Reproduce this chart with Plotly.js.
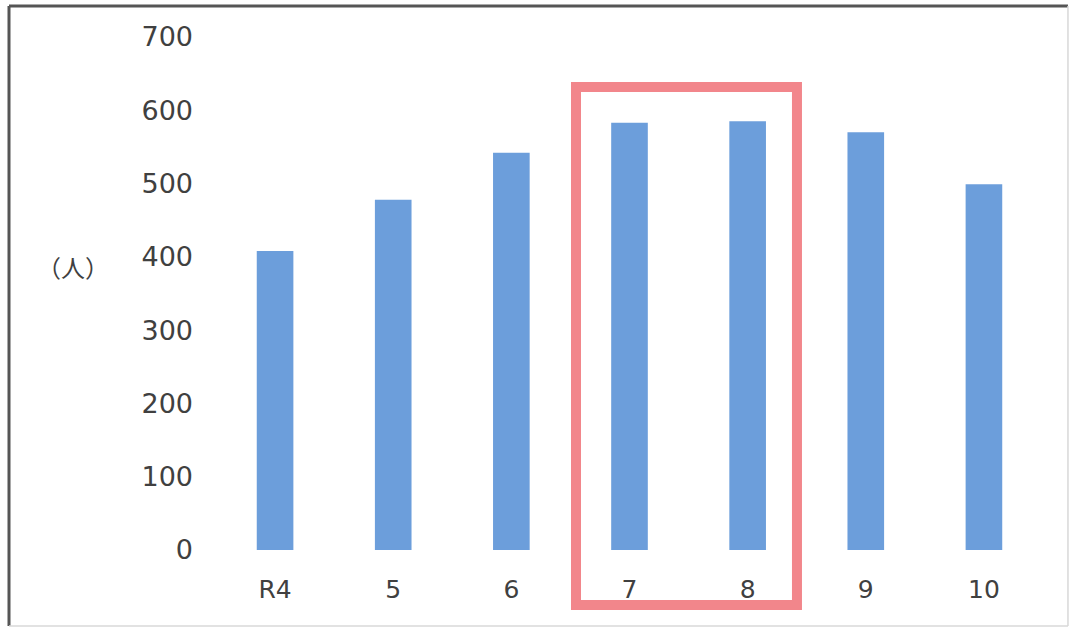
<!DOCTYPE html>
<html>
<head>
<meta charset="utf-8">
<script src="https://cdn.plot.ly/plotly-3.0.1.min.js"></script>
<style>html,body{margin:0;padding:0;background:#fff;}#chart{width:1072px;height:628px;}</style>
</head>
<body>
<div id="chart"></div>
<script>
const categories = ["R4", "5", "6", "7", "8", "9", "10"];
const values = [408, 478, 542, 583, 585, 570, 499];
const yTicks = [0, 100, 200, 300, 400, 500, 600, 700];
const unitLabel = "（人）";

const trace = {
  type: "bar",
  x: categories,
  y: values,
  width: 0.31,
  marker: {color: "#6c9edb"},
  hoverinfo: "x+y"
};

const layout = {
  width: 1072,
  height: 628,
  margin: {l: 216, r: 29, t: 37, b: 78},
  paper_bgcolor: "#ffffff",
  plot_bgcolor: "#ffffff",
  showlegend: false,
  bargap: 0.69,
  xaxis: {
    type: "category",
    range: [-0.5, 6.5],
    showgrid: false,
    zeroline: false,
    showline: false,
    ticks: "",
    ticklabelstandoff: 22,
    tickfont: {family: "DejaVu Sans", size: 25, color: "#404040"}
  },
  yaxis: {
    range: [0, 700],
    tickvals: yTicks,
    ticktext: yTicks.map(String),
    showgrid: false,
    zeroline: false,
    showline: false,
    ticks: "",
    ticklabelstandoff: 22,
    tickfont: {family: "DejaVu Sans", size: 27, color: "#404040"}
  },
  annotations: [{
    text: unitLabel,
    xref: "paper", yref: "paper",
    x: -0.1729, y: 0.5517,
    xanchor: "center", yanchor: "middle",
    showarrow: false,
    font: {family: "Noto Sans CJK JP, Noto Sans CJK SC, sans-serif", size: 24, color: "#404040"}
  }],
  shapes: [
    {type: "rect", xref: "paper", yref: "paper", x0: 0.4353, x1: 0.7025, y0: -0.1072, y1: 0.9025,
     line: {color: "#f2868b", width: 10}, fillcolor: "rgba(0,0,0,0)", layer: "above"},
    {type: "line", xref: "paper", yref: "paper", x0: -0.2503, x1: 1.0302, y0: 1.0604, y1: 1.0604,
     line: {color: "#555555", width: 3}},
    {type: "line", xref: "paper", yref: "paper", x0: -0.2503, x1: -0.2503, y0: -0.1481, y1: 1.0604,
     line: {color: "#555555", width: 3}},
    {type: "line", xref: "paper", yref: "paper", x0: 1.0302, x1: 1.0302, y0: -0.1481, y1: 1.0604,
     line: {color: "#d8d8d8", width: 1.5}},
    {type: "line", xref: "paper", yref: "paper", x0: -0.2503, x1: 1.0302, y0: -0.1481, y1: -0.1481,
     line: {color: "#d8d8d8", width: 1.5}}
  ]
};

Plotly.newPlot("chart", [trace], layout, {displayModeBar: false, staticPlot: true});
</script>
</body>
</html>
